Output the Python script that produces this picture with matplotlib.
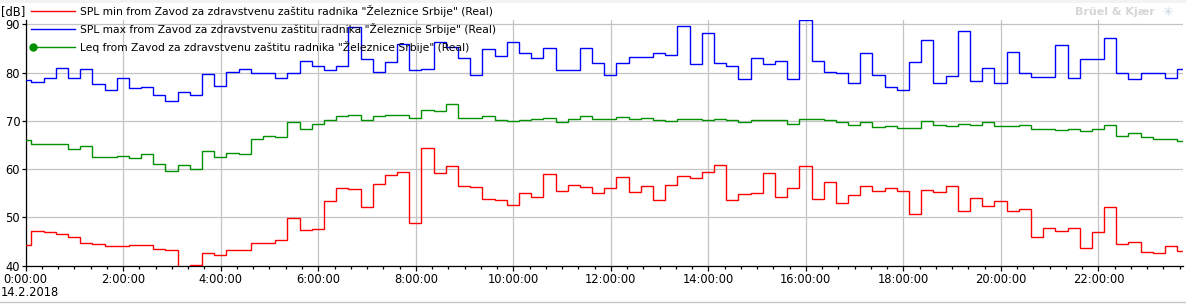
import numpy as np
import matplotlib
matplotlib.use("Agg")
import matplotlib.pyplot as plt
from matplotlib.lines import Line2D
from matplotlib.patches import Rectangle
from matplotlib.ticker import MultipleLocator, FuncFormatter

# 15 min intervals, first one starts 8 min before midnight
start_min = -8
step_min = 15

spl_min = [44.2, 47.1, 46.9, 46.5, 45.9, 44.6, 44.4, 44.0, 44.0, 44.2,
           44.2, 43.4, 43.2, 38.5, 40.2, 42.6, 42.3, 43.2, 43.2, 44.6,
           44.6, 45.4, 49.8, 47.3, 47.7, 53.3, 56.0, 55.8, 52.1, 57.0,
           58.7, 59.3, 48.8, 64.3, 59.1, 60.6, 56.6, 56.2, 53.9, 53.7,
           52.5, 55.0, 54.3, 58.9, 55.4, 56.8, 56.2, 55.0, 56.0, 58.3,
           55.2, 56.4, 53.5, 56.8, 58.5, 58.1, 59.5, 60.8, 53.5, 54.8,
           55.0, 59.1, 54.3, 56.0, 60.6, 53.9, 57.4, 52.9, 54.6, 56.6,
           55.4, 56.0, 55.4, 50.7, 55.6, 55.2, 56.6, 51.4, 54.1, 52.3,
           53.3, 51.3, 51.7, 45.9, 47.9, 47.1, 47.9, 43.6, 46.9, 52.1,
           44.4, 45.0, 42.8, 42.6, 44.0, 43.0]

spl_max = [78.5, 78.1, 78.8, 81.0, 78.8, 80.8, 77.7, 76.3, 78.8, 76.7,
           77.1, 75.4, 74.0, 75.9, 75.4, 79.6, 77.3, 80.1, 80.8, 79.8,
           79.8, 78.8, 80.0, 82.3, 81.4, 80.6, 81.4, 89.4, 82.7, 80.2,
           82.1, 85.9, 80.6, 80.8, 86.4, 85.3, 82.9, 79.4, 84.8, 83.4,
           86.4, 84.1, 82.9, 85.0, 80.6, 80.6, 85.0, 81.9, 79.4, 81.9,
           83.3, 83.3, 84.1, 83.7, 89.7, 81.7, 88.1, 81.9, 81.4, 78.6,
           82.9, 81.7, 82.3, 78.6, 90.8, 82.3, 80.2, 80.0, 77.9, 84.1,
           79.4, 77.1, 76.3, 82.1, 86.8, 77.9, 79.2, 88.5, 78.3, 81.0,
           77.9, 84.3, 79.8, 79.0, 79.0, 85.6, 78.8, 82.7, 82.7, 87.2,
           80.0, 78.6, 79.8, 80.0, 78.8, 80.8]

leq = [66.0, 65.1, 65.3, 65.1, 64.1, 64.7, 62.6, 62.6, 62.8, 62.2,
       63.2, 61.0, 59.7, 60.8, 60.1, 63.7, 62.6, 63.4, 63.2, 66.3,
       66.8, 66.6, 69.7, 68.2, 69.4, 70.1, 70.9, 71.1, 70.1, 70.9,
       71.3, 71.1, 70.5, 72.3, 72.1, 73.4, 70.5, 70.5, 70.9, 70.1,
       69.9, 70.1, 70.3, 70.5, 69.7, 70.3, 70.9, 70.3, 70.3, 70.7,
       70.3, 70.5, 70.1, 69.9, 70.3, 70.3, 70.1, 70.3, 70.1, 69.7,
       70.1, 70.1, 70.1, 69.4, 70.3, 70.3, 70.1, 69.7, 69.2, 69.7,
       68.8, 69.0, 68.6, 68.6, 69.9, 69.2, 69.0, 69.4, 69.2, 69.7,
       69.0, 69.0, 69.1, 68.2, 68.2, 68.0, 68.2, 67.8, 68.2, 69.2,
       66.8, 67.4, 66.6, 66.3, 66.3, 65.9]

source = 'Zavod za zdravstvenu zaštitu radnika "Železnice Srbije" (Real)'
labels = ["SPL min from " + source, "SPL max from " + source, "Leq from " + source]
date_label = "14.2.2018"

edges = (start_min + step_min * np.arange(len(leq) + 1)) / 60.0

plt.rcParams['font.family'] = ['DejaVu Sans']
fig = plt.figure(figsize=(11.86, 3.04), dpi=100)
W, H = 1186.0, 304.0
ax = fig.add_axes([25.7 / W, (H - 265.7) / H, (1182.5 - 25.7) / W, (265.7 - 20) / H])

ax.stairs(spl_min, edges, baseline=None, color='#ff0000', lw=1.0, zorder=3)
ax.stairs(spl_max, edges, baseline=None, color='#0000ff', lw=1.0, zorder=3)
ax.stairs(leq, edges, baseline=None, color='#009000', lw=1.0, zorder=3)

ax.set_xlim(0, 23.725)
ax.set_ylim(40, 90.87)
ax.xaxis.set_major_locator(MultipleLocator(2))
ax.xaxis.set_minor_locator(MultipleLocator(1 / 3))
ax.xaxis.set_major_formatter(FuncFormatter(lambda v, p: "%d:00:00" % round(v)))
ax.yaxis.set_major_locator(MultipleLocator(10))
ax.grid(True, which='major', color='#c4c4c4', lw=0.9, zorder=0)
for s in ['top', 'right']:
    ax.spines[s].set_visible(False)
ax.spines['left'].set_linewidth(0.9)
ax.spines['bottom'].set_linewidth(0.9)
ax.tick_params(axis='x', which='major', length=3.5, width=0.9, labelsize=8.3, pad=2)
ax.tick_params(axis='x', which='minor', length=2.5, width=0.9)
ax.tick_params(axis='y', which='major', length=3, width=0.9, labelsize=8.3, pad=1)

fig.text(1 / W, 1 - 293 / H, date_label, fontsize=8.3, ha='left', va='center')
fig.text(1 / W, 1 - 12 / H, "[dB]", fontsize=8.3, ha='left', va='center')

# legend drawn by hand: handle 31..74 px, text from 80 px
colors = ['#ff0000', '#0000ff', '#009000']
rows = [11, 29.3, 47]
for lab, c, yy in zip(labels, colors, rows):
    fy = 1 - yy / H
    fig.add_artist(Line2D([31 / W, 74.5 / W], [fy, fy], color=c, lw=1.0))
    fig.text(80 / W, fy, lab, fontsize=7.75, ha='left', va='center', zorder=5)
fig.add_artist(Line2D([32.7 / W], [1 - 47 / H], color=colors[2], marker='o', ms=5, lw=0))

# watermark and frame bits
fig.text(1155 / W, 1 - 12 / H, "Brüel & Kjær", fontsize=8, fontweight='bold',
         color='#d6d6d6', ha='right', va='center')
fig.text(1168 / W, 1 - 12 / H, "✳", fontsize=9, color='#c8d4e6', ha='center', va='center')
fig.add_artist(Rectangle((0, 1 - 3 / H), 1, 3 / H, transform=fig.transFigure,
                         color='#f3f3f3', lw=0))
fig.add_artist(Line2D([0, 1], [1 - 301.5 / H, 1 - 301.5 / H], color='#c8c8c8', lw=1.0))

fig.savefig("out.png", dpi=100)
